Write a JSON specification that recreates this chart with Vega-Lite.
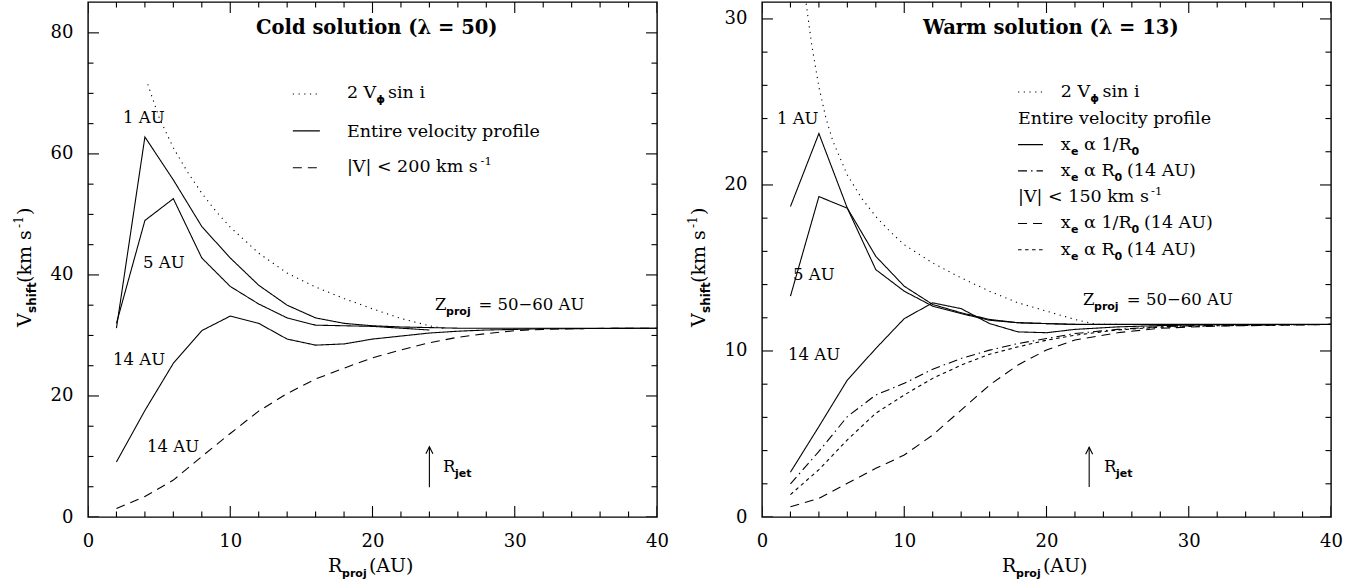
{
"$schema": "https://vega.github.io/schema/vega-lite/v6.json",
"padding": {"left": 12, "top": 1, "right": 5, "bottom": 0},
"autosize": {"type": "pad"},
"spacing": 16,
"resolve": {"scale": {"x": "independent", "y": "independent"}},
"config": {
 "view": {"stroke": "black", "strokeWidth": 1.4},
 "axis": {"domain": false, "grid": false, "ticks": false, "labelColor": "black", "labelFont": "DejaVu Serif", "labelFontSize": 18, "labelFlush": false, "labelOverlap": false},
 "text": {"color": "black"}
},
"datasets": {
 "xticks": [
  {"R":0,"kind":"major"},{"R":2,"kind":"minor"},{"R":4,"kind":"minor"},{"R":6,"kind":"minor"},{"R":8,"kind":"minor"},{"R":10,"kind":"major"},{"R":12,"kind":"minor"},{"R":14,"kind":"minor"},{"R":16,"kind":"minor"},{"R":18,"kind":"minor"},{"R":20,"kind":"major"},{"R":22,"kind":"minor"},{"R":24,"kind":"minor"},{"R":26,"kind":"minor"},{"R":28,"kind":"minor"},{"R":30,"kind":"major"},{"R":32,"kind":"minor"},{"R":34,"kind":"minor"},{"R":36,"kind":"minor"},{"R":38,"kind":"minor"},{"R":40,"kind":"major"}
 ],
 "yticks": [
  {"panel":"cold","V":0,"kind":"major"},{"panel":"cold","V":5,"kind":"minor"},{"panel":"cold","V":10,"kind":"minor"},{"panel":"cold","V":15,"kind":"minor"},{"panel":"cold","V":20,"kind":"major"},{"panel":"cold","V":25,"kind":"minor"},{"panel":"cold","V":30,"kind":"minor"},{"panel":"cold","V":35,"kind":"minor"},{"panel":"cold","V":40,"kind":"major"},{"panel":"cold","V":45,"kind":"minor"},{"panel":"cold","V":50,"kind":"minor"},{"panel":"cold","V":55,"kind":"minor"},{"panel":"cold","V":60,"kind":"major"},{"panel":"cold","V":65,"kind":"minor"},{"panel":"cold","V":70,"kind":"minor"},{"panel":"cold","V":75,"kind":"minor"},{"panel":"cold","V":80,"kind":"major"},
  {"panel":"warm","V":0,"kind":"major"},{"panel":"warm","V":2,"kind":"minor"},{"panel":"warm","V":4,"kind":"minor"},{"panel":"warm","V":6,"kind":"minor"},{"panel":"warm","V":8,"kind":"minor"},{"panel":"warm","V":10,"kind":"major"},{"panel":"warm","V":12,"kind":"minor"},{"panel":"warm","V":14,"kind":"minor"},{"panel":"warm","V":16,"kind":"minor"},{"panel":"warm","V":18,"kind":"minor"},{"panel":"warm","V":20,"kind":"major"},{"panel":"warm","V":22,"kind":"minor"},{"panel":"warm","V":24,"kind":"minor"},{"panel":"warm","V":26,"kind":"minor"},{"panel":"warm","V":28,"kind":"minor"},{"panel":"warm","V":30,"kind":"major"}
 ],
 "curves": [
  {"panel":"cold","profile":"rotation","curve":"rot","R":4.2,"V":71.5},{"panel":"cold","profile":"rotation","curve":"rot","R":5,"V":66.0},{"panel":"cold","profile":"rotation","curve":"rot","R":6,"V":61.0},{"panel":"cold","profile":"rotation","curve":"rot","R":7,"V":57.0},{"panel":"cold","profile":"rotation","curve":"rot","R":8,"V":53.5},{"panel":"cold","profile":"rotation","curve":"rot","R":9,"V":50.5},{"panel":"cold","profile":"rotation","curve":"rot","R":10,"V":47.9},{"panel":"cold","profile":"rotation","curve":"rot","R":12,"V":43.6},{"panel":"cold","profile":"rotation","curve":"rot","R":14,"V":40.3},{"panel":"cold","profile":"rotation","curve":"rot","R":16,"V":38.0},{"panel":"cold","profile":"rotation","curve":"rot","R":18,"V":36.1},{"panel":"cold","profile":"rotation","curve":"rot","R":20,"V":34.4},{"panel":"cold","profile":"rotation","curve":"rot","R":22,"V":32.8},{"panel":"cold","profile":"rotation","curve":"rot","R":24,"V":31.6},{"panel":"cold","profile":"rotation","curve":"rot","R":25,"V":31.2},
  {"panel":"cold","profile":"entire","curve":"1 AU","R":2,"V":31.2},{"panel":"cold","profile":"entire","curve":"1 AU","R":4,"V":62.8},{"panel":"cold","profile":"entire","curve":"1 AU","R":6,"V":55.7},{"panel":"cold","profile":"entire","curve":"1 AU","R":8,"V":48.0},{"panel":"cold","profile":"entire","curve":"1 AU","R":10,"V":42.8},{"panel":"cold","profile":"entire","curve":"1 AU","R":12,"V":38.3},{"panel":"cold","profile":"entire","curve":"1 AU","R":14,"V":35.0},{"panel":"cold","profile":"entire","curve":"1 AU","R":16,"V":32.9},{"panel":"cold","profile":"entire","curve":"1 AU","R":18,"V":32.0},{"panel":"cold","profile":"entire","curve":"1 AU","R":20,"V":31.6},{"panel":"cold","profile":"entire","curve":"1 AU","R":22,"V":31.4},{"panel":"cold","profile":"entire","curve":"1 AU","R":24,"V":31.3},{"panel":"cold","profile":"entire","curve":"1 AU","R":26,"V":31.2},{"panel":"cold","profile":"entire","curve":"1 AU","R":40,"V":31.2},
  {"panel":"cold","profile":"entire","curve":"5 AU","R":2,"V":32.0},{"panel":"cold","profile":"entire","curve":"5 AU","R":4,"V":49.0},{"panel":"cold","profile":"entire","curve":"5 AU","R":6,"V":52.6},{"panel":"cold","profile":"entire","curve":"5 AU","R":8,"V":42.8},{"panel":"cold","profile":"entire","curve":"5 AU","R":10,"V":38.1},{"panel":"cold","profile":"entire","curve":"5 AU","R":12,"V":35.2},{"panel":"cold","profile":"entire","curve":"5 AU","R":14,"V":32.9},{"panel":"cold","profile":"entire","curve":"5 AU","R":16,"V":31.7},{"panel":"cold","profile":"entire","curve":"5 AU","R":18,"V":31.6},{"panel":"cold","profile":"entire","curve":"5 AU","R":20,"V":31.5},{"panel":"cold","profile":"entire","curve":"5 AU","R":22,"V":31.2},{"panel":"cold","profile":"entire","curve":"5 AU","R":24,"V":30.9},
  {"panel":"cold","profile":"entire","curve":"14 AU","R":2,"V":9.1},{"panel":"cold","profile":"entire","curve":"14 AU","R":4,"V":17.6},{"panel":"cold","profile":"entire","curve":"14 AU","R":6,"V":25.4},{"panel":"cold","profile":"entire","curve":"14 AU","R":8,"V":30.8},{"panel":"cold","profile":"entire","curve":"14 AU","R":10,"V":33.2},{"panel":"cold","profile":"entire","curve":"14 AU","R":12,"V":32.0},{"panel":"cold","profile":"entire","curve":"14 AU","R":14,"V":29.4},{"panel":"cold","profile":"entire","curve":"14 AU","R":16,"V":28.4},{"panel":"cold","profile":"entire","curve":"14 AU","R":18,"V":28.6},{"panel":"cold","profile":"entire","curve":"14 AU","R":20,"V":29.4},{"panel":"cold","profile":"entire","curve":"14 AU","R":22,"V":29.9},{"panel":"cold","profile":"entire","curve":"14 AU","R":24,"V":30.4},{"panel":"cold","profile":"entire","curve":"14 AU","R":26,"V":30.7},{"panel":"cold","profile":"entire","curve":"14 AU","R":28,"V":30.9},{"panel":"cold","profile":"entire","curve":"14 AU","R":30,"V":31.0},{"panel":"cold","profile":"entire","curve":"14 AU","R":32,"V":31.1},{"panel":"cold","profile":"entire","curve":"14 AU","R":40,"V":31.2},
  {"panel":"cold","profile":"lowV200","curve":"14 AU","R":2,"V":1.4},{"panel":"cold","profile":"lowV200","curve":"14 AU","R":4,"V":3.4},{"panel":"cold","profile":"lowV200","curve":"14 AU","R":6,"V":6.1},{"panel":"cold","profile":"lowV200","curve":"14 AU","R":8,"V":10.0},{"panel":"cold","profile":"lowV200","curve":"14 AU","R":10,"V":13.8},{"panel":"cold","profile":"lowV200","curve":"14 AU","R":12,"V":17.5},{"panel":"cold","profile":"lowV200","curve":"14 AU","R":14,"V":20.4},{"panel":"cold","profile":"lowV200","curve":"14 AU","R":16,"V":22.8},{"panel":"cold","profile":"lowV200","curve":"14 AU","R":18,"V":24.6},{"panel":"cold","profile":"lowV200","curve":"14 AU","R":20,"V":26.3},{"panel":"cold","profile":"lowV200","curve":"14 AU","R":22,"V":27.6},{"panel":"cold","profile":"lowV200","curve":"14 AU","R":24,"V":28.8},{"panel":"cold","profile":"lowV200","curve":"14 AU","R":26,"V":29.7},{"panel":"cold","profile":"lowV200","curve":"14 AU","R":28,"V":30.3},{"panel":"cold","profile":"lowV200","curve":"14 AU","R":30,"V":30.8},{"panel":"cold","profile":"lowV200","curve":"14 AU","R":32,"V":31.0},{"panel":"cold","profile":"lowV200","curve":"14 AU","R":35,"V":31.15},{"panel":"cold","profile":"lowV200","curve":"14 AU","R":40,"V":31.2},
  {"panel":"warm","profile":"rotation","curve":"rot","R":3.0,"V":31.6},{"panel":"warm","profile":"rotation","curve":"rot","R":3.5,"V":28.4},{"panel":"warm","profile":"rotation","curve":"rot","R":4,"V":25.9},{"panel":"warm","profile":"rotation","curve":"rot","R":4.5,"V":24.0},{"panel":"warm","profile":"rotation","curve":"rot","R":5,"V":22.6},{"panel":"warm","profile":"rotation","curve":"rot","R":6,"V":20.6},{"panel":"warm","profile":"rotation","curve":"rot","R":7,"V":19.2},{"panel":"warm","profile":"rotation","curve":"rot","R":8,"V":18.1},{"panel":"warm","profile":"rotation","curve":"rot","R":9,"V":17.2},{"panel":"warm","profile":"rotation","curve":"rot","R":10,"V":16.4},{"panel":"warm","profile":"rotation","curve":"rot","R":12,"V":15.3},{"panel":"warm","profile":"rotation","curve":"rot","R":14,"V":14.4},{"panel":"warm","profile":"rotation","curve":"rot","R":16,"V":13.6},{"panel":"warm","profile":"rotation","curve":"rot","R":18,"V":12.9},{"panel":"warm","profile":"rotation","curve":"rot","R":20,"V":12.4},{"panel":"warm","profile":"rotation","curve":"rot","R":22,"V":11.9},{"panel":"warm","profile":"rotation","curve":"rot","R":23.5,"V":11.6},{"panel":"warm","profile":"rotation","curve":"rot","R":25,"V":11.6},
  {"panel":"warm","profile":"entire_invR0","curve":"1 AU","R":2,"V":18.7},{"panel":"warm","profile":"entire_invR0","curve":"1 AU","R":4,"V":23.1},{"panel":"warm","profile":"entire_invR0","curve":"1 AU","R":6,"V":18.6},{"panel":"warm","profile":"entire_invR0","curve":"1 AU","R":8,"V":15.7},{"panel":"warm","profile":"entire_invR0","curve":"1 AU","R":10,"V":13.9},{"panel":"warm","profile":"entire_invR0","curve":"1 AU","R":12,"V":12.8},{"panel":"warm","profile":"entire_invR0","curve":"1 AU","R":14,"V":12.3},{"panel":"warm","profile":"entire_invR0","curve":"1 AU","R":16,"V":11.9},{"panel":"warm","profile":"entire_invR0","curve":"1 AU","R":18,"V":11.7},{"panel":"warm","profile":"entire_invR0","curve":"1 AU","R":20,"V":11.65},{"panel":"warm","profile":"entire_invR0","curve":"1 AU","R":22,"V":11.6},{"panel":"warm","profile":"entire_invR0","curve":"1 AU","R":40,"V":11.6},
  {"panel":"warm","profile":"entire_invR0","curve":"5 AU","R":2,"V":13.3},{"panel":"warm","profile":"entire_invR0","curve":"5 AU","R":4,"V":19.3},{"panel":"warm","profile":"entire_invR0","curve":"5 AU","R":6,"V":18.6},{"panel":"warm","profile":"entire_invR0","curve":"5 AU","R":8,"V":14.9},{"panel":"warm","profile":"entire_invR0","curve":"5 AU","R":10,"V":13.6},{"panel":"warm","profile":"entire_invR0","curve":"5 AU","R":12,"V":12.7},{"panel":"warm","profile":"entire_invR0","curve":"5 AU","R":14,"V":12.25},{"panel":"warm","profile":"entire_invR0","curve":"5 AU","R":16,"V":11.85},{"panel":"warm","profile":"entire_invR0","curve":"5 AU","R":18,"V":11.7},{"panel":"warm","profile":"entire_invR0","curve":"5 AU","R":20,"V":11.65},{"panel":"warm","profile":"entire_invR0","curve":"5 AU","R":22,"V":11.6},
  {"panel":"warm","profile":"entire_invR0","curve":"14 AU","R":2,"V":2.7},{"panel":"warm","profile":"entire_invR0","curve":"14 AU","R":4,"V":5.45},{"panel":"warm","profile":"entire_invR0","curve":"14 AU","R":6,"V":8.25},{"panel":"warm","profile":"entire_invR0","curve":"14 AU","R":8,"V":10.15},{"panel":"warm","profile":"entire_invR0","curve":"14 AU","R":10,"V":11.95},{"panel":"warm","profile":"entire_invR0","curve":"14 AU","R":12,"V":12.9},{"panel":"warm","profile":"entire_invR0","curve":"14 AU","R":14,"V":12.55},{"panel":"warm","profile":"entire_invR0","curve":"14 AU","R":16,"V":11.65},{"panel":"warm","profile":"entire_invR0","curve":"14 AU","R":18,"V":11.15},{"panel":"warm","profile":"entire_invR0","curve":"14 AU","R":20,"V":11.1},{"panel":"warm","profile":"entire_invR0","curve":"14 AU","R":22,"V":11.3},{"panel":"warm","profile":"entire_invR0","curve":"14 AU","R":25,"V":11.45},{"panel":"warm","profile":"entire_invR0","curve":"14 AU","R":28,"V":11.53},{"panel":"warm","profile":"entire_invR0","curve":"14 AU","R":32,"V":11.58},{"panel":"warm","profile":"entire_invR0","curve":"14 AU","R":40,"V":11.6},
  {"panel":"warm","profile":"entire_R0","curve":"14 AU","R":2,"V":2.0},{"panel":"warm","profile":"entire_R0","curve":"14 AU","R":4,"V":3.95},{"panel":"warm","profile":"entire_R0","curve":"14 AU","R":6,"V":6.05},{"panel":"warm","profile":"entire_R0","curve":"14 AU","R":8,"V":7.35},{"panel":"warm","profile":"entire_R0","curve":"14 AU","R":10,"V":8.05},{"panel":"warm","profile":"entire_R0","curve":"14 AU","R":12,"V":8.9},{"panel":"warm","profile":"entire_R0","curve":"14 AU","R":14,"V":9.55},{"panel":"warm","profile":"entire_R0","curve":"14 AU","R":16,"V":10.05},{"panel":"warm","profile":"entire_R0","curve":"14 AU","R":18,"V":10.45},{"panel":"warm","profile":"entire_R0","curve":"14 AU","R":20,"V":10.75},{"panel":"warm","profile":"entire_R0","curve":"14 AU","R":22,"V":11.05},{"panel":"warm","profile":"entire_R0","curve":"14 AU","R":25,"V":11.3},{"panel":"warm","profile":"entire_R0","curve":"14 AU","R":28,"V":11.47},{"panel":"warm","profile":"entire_R0","curve":"14 AU","R":32,"V":11.55},{"panel":"warm","profile":"entire_R0","curve":"14 AU","R":40,"V":11.6},
  {"panel":"warm","profile":"lowV150_R0","curve":"14 AU","R":2,"V":1.35},{"panel":"warm","profile":"lowV150_R0","curve":"14 AU","R":4,"V":2.85},{"panel":"warm","profile":"lowV150_R0","curve":"14 AU","R":6,"V":4.65},{"panel":"warm","profile":"lowV150_R0","curve":"14 AU","R":8,"V":6.25},{"panel":"warm","profile":"lowV150_R0","curve":"14 AU","R":10,"V":7.35},{"panel":"warm","profile":"lowV150_R0","curve":"14 AU","R":12,"V":8.35},{"panel":"warm","profile":"lowV150_R0","curve":"14 AU","R":14,"V":9.15},{"panel":"warm","profile":"lowV150_R0","curve":"14 AU","R":16,"V":9.8},{"panel":"warm","profile":"lowV150_R0","curve":"14 AU","R":18,"V":10.25},{"panel":"warm","profile":"lowV150_R0","curve":"14 AU","R":20,"V":10.65},{"panel":"warm","profile":"lowV150_R0","curve":"14 AU","R":22,"V":10.95},{"panel":"warm","profile":"lowV150_R0","curve":"14 AU","R":25,"V":11.27},{"panel":"warm","profile":"lowV150_R0","curve":"14 AU","R":28,"V":11.43},{"panel":"warm","profile":"lowV150_R0","curve":"14 AU","R":32,"V":11.52},{"panel":"warm","profile":"lowV150_R0","curve":"14 AU","R":40,"V":11.6},
  {"panel":"warm","profile":"lowV150_invR0","curve":"14 AU","R":2,"V":0.62},{"panel":"warm","profile":"lowV150_invR0","curve":"14 AU","R":4,"V":1.12},{"panel":"warm","profile":"lowV150_invR0","curve":"14 AU","R":6,"V":2.03},{"panel":"warm","profile":"lowV150_invR0","curve":"14 AU","R":8,"V":2.93},{"panel":"warm","profile":"lowV150_invR0","curve":"14 AU","R":10,"V":3.73},{"panel":"warm","profile":"lowV150_invR0","curve":"14 AU","R":12,"V":4.94},{"panel":"warm","profile":"lowV150_invR0","curve":"14 AU","R":14,"V":6.44},{"panel":"warm","profile":"lowV150_invR0","curve":"14 AU","R":16,"V":7.95},{"panel":"warm","profile":"lowV150_invR0","curve":"14 AU","R":18,"V":9.16},{"panel":"warm","profile":"lowV150_invR0","curve":"14 AU","R":20,"V":10.06},{"panel":"warm","profile":"lowV150_invR0","curve":"14 AU","R":22,"V":10.66},{"panel":"warm","profile":"lowV150_invR0","curve":"14 AU","R":25,"V":11.1},{"panel":"warm","profile":"lowV150_invR0","curve":"14 AU","R":28,"V":11.37},{"panel":"warm","profile":"lowV150_invR0","curve":"14 AU","R":32,"V":11.5},{"panel":"warm","profile":"lowV150_invR0","curve":"14 AU","R":40,"V":11.6}
 ],
 "legendLines": [
  {"panel":"cold","profile":"rotation","R":14.4,"V":69.9},{"panel":"cold","profile":"rotation","R":16.3,"V":69.9},
  {"panel":"cold","profile":"entire","R":14.4,"V":63.8},{"panel":"cold","profile":"entire","R":16.3,"V":63.8},
  {"panel":"cold","profile":"lowV200","R":14.4,"V":57.7},{"panel":"cold","profile":"lowV200","R":16.3,"V":57.7},
  {"panel":"warm","profile":"rotation","R":18.0,"V":25.6},{"panel":"warm","profile":"rotation","R":19.75,"V":25.6},
  {"panel":"warm","profile":"entire_invR0","R":18.0,"V":22.43},{"panel":"warm","profile":"entire_invR0","R":19.75,"V":22.43},
  {"panel":"warm","profile":"entire_R0","R":18.0,"V":20.85},{"panel":"warm","profile":"entire_R0","R":19.75,"V":20.85},
  {"panel":"warm","profile":"lowV150_invR0","R":18.0,"V":17.68},{"panel":"warm","profile":"lowV150_invR0","R":19.75,"V":17.68},
  {"panel":"warm","profile":"lowV150_R0","R":18.0,"V":16.1},{"panel":"warm","profile":"lowV150_R0","R":19.75,"V":16.1}
 ],
 "labels": [
  {"panel":"cold","R":2.46,"V":65.1,"text":"1 AU"},{"panel":"cold","R":3.87,"V":41.2,"text":"5 AU"},{"panel":"cold","R":1.76,"V":25.1,"text":"14 AU"},{"panel":"cold","R":4.15,"V":10.7,"text":"14 AU"},
  {"panel":"cold","R":24.4,"V":34.2,"text":"Z"},{"panel":"cold","R":27.45,"V":34.2,"text":"= 50−60 AU"},{"panel":"cold","R":24.96,"V":7.44,"text":"R"},
  {"panel":"warm","R":1.05,"V":23.7,"text":"1 AU"},{"panel":"warm","R":2.18,"V":14.3,"text":"5 AU"},{"panel":"warm","R":1.83,"V":9.46,"text":"14 AU"},
  {"panel":"warm","R":22.57,"V":12.77,"text":"Z"},{"panel":"warm","R":25.65,"V":12.77,"text":"= 50−60 AU"},{"panel":"warm","R":24.04,"V":2.71,"text":"R"}
 ],
 "legendText": [
  {"panel":"cold","R":18.2,"V":69.3,"text":"2 V"},{"panel":"cold","R":21.09,"V":69.3,"text":"sin i"},{"panel":"cold","R":18.2,"V":62.8,"text":"Entire velocity profile"},{"panel":"cold","R":18.2,"V":57.0,"text":"|V| < 200 km s"},
  {"panel":"warm","R":21.0,"V":25.3,"text":"2 V"},{"panel":"warm","R":23.94,"V":25.3,"text":"sin i"},{"panel":"warm","R":18.0,"V":23.7,"text":"Entire velocity profile"},
  {"panel":"warm","R":21.0,"V":22.13,"text":"x"},{"panel":"warm","R":22.64,"V":22.13,"text":"α 1/R"},
  {"panel":"warm","R":21.0,"V":20.55,"text":"x"},{"panel":"warm","R":22.64,"V":20.55,"text":"α R"},{"panel":"warm","R":25.66,"V":20.55,"text":"(14 AU)"},
  {"panel":"warm","R":18.0,"V":18.96,"text":"|V| < 150 km s"},
  {"panel":"warm","R":21.0,"V":17.38,"text":"x"},{"panel":"warm","R":22.64,"V":17.38,"text":"α 1/R"},{"panel":"warm","R":26.85,"V":17.38,"text":"(14 AU)"},
  {"panel":"warm","R":21.0,"V":15.8,"text":"x"},{"panel":"warm","R":22.64,"V":15.8,"text":"α R"},{"panel":"warm","R":25.66,"V":15.8,"text":"(14 AU)"}
 ],
 "subs": [
  {"panel":"cold","R":20.27,"V":69.3,"text":"ϕ"},{"panel":"cold","R":25.17,"V":34.2,"text":"proj"},{"panel":"cold","R":25.8,"V":7.44,"text":"jet"},{"panel":"cold","R":17.86,"V":-9.09,"text":"proj"},
  {"panel":"warm","R":23.08,"V":25.3,"text":"ϕ"},
  {"panel":"warm","R":21.72,"V":22.13,"text":"e"},{"panel":"warm","R":25.97,"V":22.13,"text":"0"},
  {"panel":"warm","R":21.72,"V":20.55,"text":"e"},{"panel":"warm","R":24.78,"V":20.55,"text":"0"},
  {"panel":"warm","R":21.72,"V":17.38,"text":"e"},{"panel":"warm","R":25.97,"V":17.38,"text":"0"},
  {"panel":"warm","R":21.72,"V":15.8,"text":"e"},{"panel":"warm","R":24.78,"V":15.8,"text":"0"},
  {"panel":"warm","R":23.34,"V":12.77,"text":"proj"},{"panel":"warm","R":24.89,"V":2.71,"text":"jet"},{"panel":"warm","R":17.86,"V":-3.31,"text":"proj"}
 ],
 "sups": [
  {"panel":"cold","R":27.6,"V":57.0,"text":"-1"},
  {"panel":"warm","R":27.35,"V":18.96,"text":"-1"}
 ],
 "titles": [
  {"panel":"cold","R":20.3,"V":79.8,"text":"Cold solution (λ = 50)"},
  {"panel":"warm","R":20.3,"V":29.1,"text":"Warm solution (λ = 13)"}
 ],
 "xtitles": [
  {"panel":"cold","R":16.87,"V":-9.09,"text":"R"},{"panel":"cold","R":19.75,"V":-9.09,"text":"(AU)"},
  {"panel":"warm","R":16.87,"V":-3.31,"text":"R"},{"panel":"warm","R":19.75,"V":-3.31,"text":"(AU)"}
 ],
 "ytitles": [
  {"panel":"cold","R":-4.0,"V":31.4,"text":"V"},{"panel":"cold","R":-4.0,"V":38.68,"text":"(km s"},{"panel":"cold","R":-4.0,"V":49.92,"text":")"},
  {"panel":"warm","R":-4.0,"V":11.45,"text":"V"},{"panel":"warm","R":-4.0,"V":14.10,"text":"(km s"},{"panel":"warm","R":-4.0,"V":18.19,"text":")"}
 ],
 "ytitleSubs": [
  {"panel":"cold","R":-4.0,"V":33.72,"text":"shift"},
  {"panel":"warm","R":-4.0,"V":12.29,"text":"shift"}
 ],
 "ytitleSups": [
  {"panel":"cold","R":-4.0,"V":47.77,"text":"-1"},
  {"panel":"warm","R":-4.0,"V":17.41,"text":"-1"}
 ],
 "arrows": [
  {"panel":"cold","R":24,"V":4.9,"V2":11.6},
  {"panel":"warm","R":23,"V":1.8,"V2":4.2}
 ]
},
"hconcat": [
 {
  "width": 569, "height": 515,
  "layer": [
   {"data": {"name": "curves"}, "transform": [{"filter": "datum.panel === 'cold'"}],
    "mark": {"type": "line", "color": "black", "strokeWidth": 1.1, "clip": true},
    "encoding": {
     "x": {"field": "R", "type": "quantitative", "scale": {"domain": [0, 40], "nice": false}, "axis": {"orient": "bottom", "values": [0,10,20,30,40], "labelPadding": 15, "title": null}},
     "y": {"field": "V", "type": "quantitative", "scale": {"domain": [0, 85.1], "nice": false}, "axis": {"orient": "left", "values": [0,20,40,60,80], "labelPadding": 15, "title": null}},
     "strokeDash": {"field": "profile", "type": "nominal", "legend": null, "scale": {"domain": ["rotation","entire","lowV200","entire_invR0","entire_R0","lowV150_invR0","lowV150_R0"], "range": [[1.2,4.5],[1,0],[9,6],[1,0],[9,4,1.5,4],[9,6],[3.5,3.5]]}},
     "detail": {"field": "curve", "type": "nominal"}
    }},
   {"data": {"name": "xticks"},
    "mark": {"type": "tick", "orient": "vertical", "clip": true, "color": "black", "opacity": 1, "thickness": 1.1},
    "encoding": {
     "x": {"field": "R", "type": "quantitative", "scale": {"domain": [0, 40], "nice": false}, "axis": {"orient": "bottom", "values": [0,10,20,30,40], "labelPadding": 15, "title": null}},
     "y": {"datum": 0, "type": "quantitative", "scale": {"domain": [0, 85.1], "nice": false}, "axis": {"orient": "left", "values": [0,20,40,60,80], "labelPadding": 15, "title": null}},
     "size": {"field": "kind", "type": "nominal", "scale": {"domain": ["major","minor"], "range": [22, 11]}, "legend": null}
    }},
   {"data": {"name": "xticks"},
    "mark": {"type": "tick", "orient": "vertical", "clip": true, "color": "black", "opacity": 1, "thickness": 1.1},
    "encoding": {
     "x": {"field": "R", "type": "quantitative", "scale": {"domain": [0, 40], "nice": false}, "axis": {"orient": "bottom", "values": [0,10,20,30,40], "labelPadding": 15, "title": null}},
     "y": {"datum": 85.1, "type": "quantitative", "scale": {"domain": [0, 85.1], "nice": false}, "axis": {"orient": "left", "values": [0,20,40,60,80], "labelPadding": 15, "title": null}},
     "size": {"field": "kind", "type": "nominal", "scale": {"domain": ["major","minor"], "range": [22, 11]}, "legend": null}
    }},
   {"data": {"name": "yticks"}, "transform": [{"filter": "datum.panel === 'cold'"}],
    "mark": {"type": "tick", "orient": "horizontal", "clip": true, "color": "black", "opacity": 1, "thickness": 1.1},
    "encoding": {
     "x": {"datum": 0, "type": "quantitative", "scale": {"domain": [0, 40], "nice": false}, "axis": {"orient": "bottom", "values": [0,10,20,30,40], "labelPadding": 15, "title": null}},
     "y": {"field": "V", "type": "quantitative", "scale": {"domain": [0, 85.1], "nice": false}, "axis": {"orient": "left", "values": [0,20,40,60,80], "labelPadding": 15, "title": null}},
     "size": {"field": "kind", "type": "nominal", "scale": {"domain": ["major","minor"], "range": [22, 11]}, "legend": null}
    }},
   {"data": {"name": "yticks"}, "transform": [{"filter": "datum.panel === 'cold'"}],
    "mark": {"type": "tick", "orient": "horizontal", "clip": true, "color": "black", "opacity": 1, "thickness": 1.1},
    "encoding": {
     "x": {"datum": 40, "type": "quantitative", "scale": {"domain": [0, 40], "nice": false}, "axis": {"orient": "bottom", "values": [0,10,20,30,40], "labelPadding": 15, "title": null}},
     "y": {"field": "V", "type": "quantitative", "scale": {"domain": [0, 85.1], "nice": false}, "axis": {"orient": "left", "values": [0,20,40,60,80], "labelPadding": 15, "title": null}},
     "size": {"field": "kind", "type": "nominal", "scale": {"domain": ["major","minor"], "range": [22, 11]}, "legend": null}
    }},
   {"data": {"name": "legendLines"}, "transform": [{"filter": "datum.panel === 'cold'"}],
    "mark": {"type": "line", "color": "black", "strokeWidth": 1.1},
    "encoding": {
     "x": {"field": "R", "type": "quantitative", "scale": {"domain": [0, 40], "nice": false}, "axis": {"orient": "bottom", "values": [0,10,20,30,40], "labelPadding": 15, "title": null}},
     "y": {"field": "V", "type": "quantitative", "scale": {"domain": [0, 85.1], "nice": false}, "axis": {"orient": "left", "values": [0,20,40,60,80], "labelPadding": 15, "title": null}},
     "strokeDash": {"field": "profile", "type": "nominal", "legend": null, "scale": {"domain": ["rotation","entire","lowV200","entire_invR0","entire_R0","lowV150_invR0","lowV150_R0"], "range": [[1.2,4.5],[1,0],[9,6],[1,0],[9,4,1.5,4],[9,6],[3.5,3.5]]}},
     "detail": {"field": "profile", "type": "nominal"}
    }},
   {"data": {"name": "labels"}, "transform": [{"filter": "datum.panel === 'cold'"}],
    "mark": {"type": "text", "font": "DejaVu Serif", "fontSize": 16.5, "align": "left", "baseline": "alphabetic"},
    "encoding": {
     "x": {"field": "R", "type": "quantitative", "scale": {"domain": [0, 40], "nice": false}, "axis": {"orient": "bottom", "values": [0,10,20,30,40], "labelPadding": 15, "title": null}},
     "y": {"field": "V", "type": "quantitative", "scale": {"domain": [0, 85.1], "nice": false}, "axis": {"orient": "left", "values": [0,20,40,60,80], "labelPadding": 15, "title": null}},
     "text": {"field": "text"}
    }},
   {"data": {"name": "legendText"}, "transform": [{"filter": "datum.panel === 'cold'"}],
    "mark": {"type": "text", "font": "DejaVu Serif", "fontSize": 17.5, "align": "left", "baseline": "alphabetic"},
    "encoding": {
     "x": {"field": "R", "type": "quantitative", "scale": {"domain": [0, 40], "nice": false}, "axis": {"orient": "bottom", "values": [0,10,20,30,40], "labelPadding": 15, "title": null}},
     "y": {"field": "V", "type": "quantitative", "scale": {"domain": [0, 85.1], "nice": false}, "axis": {"orient": "left", "values": [0,20,40,60,80], "labelPadding": 15, "title": null}},
     "text": {"field": "text"}
    }},
   {"data": {"name": "subs"}, "transform": [{"filter": "datum.panel === 'cold'"}],
    "mark": {"type": "text", "font": "DejaVu Sans", "fontWeight": "bold", "fontSize": 11, "align": "left", "baseline": "alphabetic", "dy": 5},
    "encoding": {
     "x": {"field": "R", "type": "quantitative", "scale": {"domain": [0, 40], "nice": false}, "axis": {"orient": "bottom", "values": [0,10,20,30,40], "labelPadding": 15, "title": null}},
     "y": {"field": "V", "type": "quantitative", "scale": {"domain": [0, 85.1], "nice": false}, "axis": {"orient": "left", "values": [0,20,40,60,80], "labelPadding": 15, "title": null}},
     "text": {"field": "text"}
    }},
   {"data": {"name": "sups"}, "transform": [{"filter": "datum.panel === 'cold'"}],
    "mark": {"type": "text", "font": "DejaVu Serif", "fontSize": 11.5, "align": "left", "baseline": "alphabetic", "dy": -7},
    "encoding": {
     "x": {"field": "R", "type": "quantitative", "scale": {"domain": [0, 40], "nice": false}, "axis": {"orient": "bottom", "values": [0,10,20,30,40], "labelPadding": 15, "title": null}},
     "y": {"field": "V", "type": "quantitative", "scale": {"domain": [0, 85.1], "nice": false}, "axis": {"orient": "left", "values": [0,20,40,60,80], "labelPadding": 15, "title": null}},
     "text": {"field": "text"}
    }},
   {"data": {"name": "titles"}, "transform": [{"filter": "datum.panel === 'cold'"}],
    "mark": {"type": "text", "font": "DejaVu Serif", "fontWeight": "bold", "fontSize": 19.5, "align": "center", "baseline": "alphabetic"},
    "encoding": {
     "x": {"field": "R", "type": "quantitative", "scale": {"domain": [0, 40], "nice": false}, "axis": {"orient": "bottom", "values": [0,10,20,30,40], "labelPadding": 15, "title": null}},
     "y": {"field": "V", "type": "quantitative", "scale": {"domain": [0, 85.1], "nice": false}, "axis": {"orient": "left", "values": [0,20,40,60,80], "labelPadding": 15, "title": null}},
     "text": {"field": "text"}
    }},
   {"data": {"name": "xtitles"}, "transform": [{"filter": "datum.panel === 'cold'"}],
    "mark": {"type": "text", "font": "DejaVu Serif", "fontSize": 19, "align": "left", "baseline": "alphabetic"},
    "encoding": {
     "x": {"field": "R", "type": "quantitative", "scale": {"domain": [0, 40], "nice": false}, "axis": {"orient": "bottom", "values": [0,10,20,30,40], "labelPadding": 15, "title": null}},
     "y": {"field": "V", "type": "quantitative", "scale": {"domain": [0, 85.1], "nice": false}, "axis": {"orient": "left", "values": [0,20,40,60,80], "labelPadding": 15, "title": null}},
     "text": {"field": "text"}
    }},
   {"data": {"name": "ytitles"}, "transform": [{"filter": "datum.panel === 'cold'"}],
    "mark": {"type": "text", "font": "DejaVu Serif", "fontSize": 19, "align": "left", "baseline": "alphabetic", "angle": 270},
    "encoding": {
     "x": {"field": "R", "type": "quantitative", "scale": {"domain": [0, 40], "nice": false}, "axis": {"orient": "bottom", "values": [0,10,20,30,40], "labelPadding": 15, "title": null}},
     "y": {"field": "V", "type": "quantitative", "scale": {"domain": [0, 85.1], "nice": false}, "axis": {"orient": "left", "values": [0,20,40,60,80], "labelPadding": 15, "title": null}},
     "text": {"field": "text"}
    }},
   {"data": {"name": "ytitleSubs"}, "transform": [{"filter": "datum.panel === 'cold'"}],
    "mark": {"type": "text", "font": "DejaVu Sans", "fontWeight": "bold", "fontSize": 12, "align": "left", "baseline": "alphabetic", "angle": 270, "dy": 5},
    "encoding": {
     "x": {"field": "R", "type": "quantitative", "scale": {"domain": [0, 40], "nice": false}, "axis": {"orient": "bottom", "values": [0,10,20,30,40], "labelPadding": 15, "title": null}},
     "y": {"field": "V", "type": "quantitative", "scale": {"domain": [0, 85.1], "nice": false}, "axis": {"orient": "left", "values": [0,20,40,60,80], "labelPadding": 15, "title": null}},
     "text": {"field": "text"}
    }},
   {"data": {"name": "ytitleSups"}, "transform": [{"filter": "datum.panel === 'cold'"}],
    "mark": {"type": "text", "font": "DejaVu Serif", "fontSize": 12, "align": "left", "baseline": "alphabetic", "angle": 270, "dy": -8},
    "encoding": {
     "x": {"field": "R", "type": "quantitative", "scale": {"domain": [0, 40], "nice": false}, "axis": {"orient": "bottom", "values": [0,10,20,30,40], "labelPadding": 15, "title": null}},
     "y": {"field": "V", "type": "quantitative", "scale": {"domain": [0, 85.1], "nice": false}, "axis": {"orient": "left", "values": [0,20,40,60,80], "labelPadding": 15, "title": null}},
     "text": {"field": "text"}
    }},
   {"data": {"name": "arrows"}, "transform": [{"filter": "datum.panel === 'cold'"}],
    "mark": {"type": "rule", "color": "black", "strokeWidth": 1.1},
    "encoding": {
     "x": {"field": "R", "type": "quantitative", "scale": {"domain": [0, 40], "nice": false}, "axis": {"orient": "bottom", "values": [0,10,20,30,40], "labelPadding": 15, "title": null}},
     "y": {"field": "V", "type": "quantitative", "scale": {"domain": [0, 85.1], "nice": false}, "axis": {"orient": "left", "values": [0,20,40,60,80], "labelPadding": 15, "title": null}},
     "y2": {"field": "V2"}
    }},
   {"data": {"name": "arrows"}, "transform": [{"filter": "datum.panel === 'cold'"}],
    "mark": {"type": "point", "shape": "M-0.5,1L0,0L0.5,1", "filled": false, "size": 196, "color": "black", "strokeWidth": 1.1, "opacity": 1},
    "encoding": {
     "x": {"field": "R", "type": "quantitative", "scale": {"domain": [0, 40], "nice": false}, "axis": {"orient": "bottom", "values": [0,10,20,30,40], "labelPadding": 15, "title": null}},
     "y": {"field": "V2", "type": "quantitative", "scale": {"domain": [0, 85.1], "nice": false}, "axis": {"orient": "left", "values": [0,20,40,60,80], "labelPadding": 15, "title": null}}
    }}
  ]
 },
 {
  "width": 569, "height": 515,
  "layer": [
   {"data": {"name": "curves"}, "transform": [{"filter": "datum.panel === 'warm'"}],
    "mark": {"type": "line", "color": "black", "strokeWidth": 1.1, "clip": true},
    "encoding": {
     "x": {"field": "R", "type": "quantitative", "scale": {"domain": [0, 40], "nice": false}, "axis": {"orient": "bottom", "values": [0,10,20,30,40], "labelPadding": 15, "title": null}},
     "y": {"field": "V", "type": "quantitative", "scale": {"domain": [0, 31.02], "nice": false}, "axis": {"orient": "left", "values": [0,10,20,30], "labelPadding": 15, "title": null}},
     "strokeDash": {"field": "profile", "type": "nominal", "legend": null, "scale": {"domain": ["rotation","entire","lowV200","entire_invR0","entire_R0","lowV150_invR0","lowV150_R0"], "range": [[1.2,4.5],[1,0],[9,6],[1,0],[9,4,1.5,4],[9,6],[3.5,3.5]]}},
     "detail": {"field": "curve", "type": "nominal"}
    }},
   {"data": {"name": "xticks"},
    "mark": {"type": "tick", "orient": "vertical", "clip": true, "color": "black", "opacity": 1, "thickness": 1.1},
    "encoding": {
     "x": {"field": "R", "type": "quantitative", "scale": {"domain": [0, 40], "nice": false}, "axis": {"orient": "bottom", "values": [0,10,20,30,40], "labelPadding": 15, "title": null}},
     "y": {"datum": 0, "type": "quantitative", "scale": {"domain": [0, 31.02], "nice": false}, "axis": {"orient": "left", "values": [0,10,20,30], "labelPadding": 15, "title": null}},
     "size": {"field": "kind", "type": "nominal", "scale": {"domain": ["major","minor"], "range": [22, 11]}, "legend": null}
    }},
   {"data": {"name": "xticks"},
    "mark": {"type": "tick", "orient": "vertical", "clip": true, "color": "black", "opacity": 1, "thickness": 1.1},
    "encoding": {
     "x": {"field": "R", "type": "quantitative", "scale": {"domain": [0, 40], "nice": false}, "axis": {"orient": "bottom", "values": [0,10,20,30,40], "labelPadding": 15, "title": null}},
     "y": {"datum": 31.02, "type": "quantitative", "scale": {"domain": [0, 31.02], "nice": false}, "axis": {"orient": "left", "values": [0,10,20,30], "labelPadding": 15, "title": null}},
     "size": {"field": "kind", "type": "nominal", "scale": {"domain": ["major","minor"], "range": [22, 11]}, "legend": null}
    }},
   {"data": {"name": "yticks"}, "transform": [{"filter": "datum.panel === 'warm'"}],
    "mark": {"type": "tick", "orient": "horizontal", "clip": true, "color": "black", "opacity": 1, "thickness": 1.1},
    "encoding": {
     "x": {"datum": 0, "type": "quantitative", "scale": {"domain": [0, 40], "nice": false}, "axis": {"orient": "bottom", "values": [0,10,20,30,40], "labelPadding": 15, "title": null}},
     "y": {"field": "V", "type": "quantitative", "scale": {"domain": [0, 31.02], "nice": false}, "axis": {"orient": "left", "values": [0,10,20,30], "labelPadding": 15, "title": null}},
     "size": {"field": "kind", "type": "nominal", "scale": {"domain": ["major","minor"], "range": [22, 11]}, "legend": null}
    }},
   {"data": {"name": "yticks"}, "transform": [{"filter": "datum.panel === 'warm'"}],
    "mark": {"type": "tick", "orient": "horizontal", "clip": true, "color": "black", "opacity": 1, "thickness": 1.1},
    "encoding": {
     "x": {"datum": 40, "type": "quantitative", "scale": {"domain": [0, 40], "nice": false}, "axis": {"orient": "bottom", "values": [0,10,20,30,40], "labelPadding": 15, "title": null}},
     "y": {"field": "V", "type": "quantitative", "scale": {"domain": [0, 31.02], "nice": false}, "axis": {"orient": "left", "values": [0,10,20,30], "labelPadding": 15, "title": null}},
     "size": {"field": "kind", "type": "nominal", "scale": {"domain": ["major","minor"], "range": [22, 11]}, "legend": null}
    }},
   {"data": {"name": "legendLines"}, "transform": [{"filter": "datum.panel === 'warm'"}],
    "mark": {"type": "line", "color": "black", "strokeWidth": 1.1},
    "encoding": {
     "x": {"field": "R", "type": "quantitative", "scale": {"domain": [0, 40], "nice": false}, "axis": {"orient": "bottom", "values": [0,10,20,30,40], "labelPadding": 15, "title": null}},
     "y": {"field": "V", "type": "quantitative", "scale": {"domain": [0, 31.02], "nice": false}, "axis": {"orient": "left", "values": [0,10,20,30], "labelPadding": 15, "title": null}},
     "strokeDash": {"field": "profile", "type": "nominal", "legend": null, "scale": {"domain": ["rotation","entire","lowV200","entire_invR0","entire_R0","lowV150_invR0","lowV150_R0"], "range": [[1.2,4.5],[1,0],[9,6],[1,0],[9,4,1.5,4],[9,6],[3.5,3.5]]}},
     "detail": {"field": "profile", "type": "nominal"}
    }},
   {"data": {"name": "labels"}, "transform": [{"filter": "datum.panel === 'warm'"}],
    "mark": {"type": "text", "font": "DejaVu Serif", "fontSize": 16.5, "align": "left", "baseline": "alphabetic"},
    "encoding": {
     "x": {"field": "R", "type": "quantitative", "scale": {"domain": [0, 40], "nice": false}, "axis": {"orient": "bottom", "values": [0,10,20,30,40], "labelPadding": 15, "title": null}},
     "y": {"field": "V", "type": "quantitative", "scale": {"domain": [0, 31.02], "nice": false}, "axis": {"orient": "left", "values": [0,10,20,30], "labelPadding": 15, "title": null}},
     "text": {"field": "text"}
    }},
   {"data": {"name": "legendText"}, "transform": [{"filter": "datum.panel === 'warm'"}],
    "mark": {"type": "text", "font": "DejaVu Serif", "fontSize": 17.5, "align": "left", "baseline": "alphabetic"},
    "encoding": {
     "x": {"field": "R", "type": "quantitative", "scale": {"domain": [0, 40], "nice": false}, "axis": {"orient": "bottom", "values": [0,10,20,30,40], "labelPadding": 15, "title": null}},
     "y": {"field": "V", "type": "quantitative", "scale": {"domain": [0, 31.02], "nice": false}, "axis": {"orient": "left", "values": [0,10,20,30], "labelPadding": 15, "title": null}},
     "text": {"field": "text"}
    }},
   {"data": {"name": "subs"}, "transform": [{"filter": "datum.panel === 'warm'"}],
    "mark": {"type": "text", "font": "DejaVu Sans", "fontWeight": "bold", "fontSize": 11, "align": "left", "baseline": "alphabetic", "dy": 5},
    "encoding": {
     "x": {"field": "R", "type": "quantitative", "scale": {"domain": [0, 40], "nice": false}, "axis": {"orient": "bottom", "values": [0,10,20,30,40], "labelPadding": 15, "title": null}},
     "y": {"field": "V", "type": "quantitative", "scale": {"domain": [0, 31.02], "nice": false}, "axis": {"orient": "left", "values": [0,10,20,30], "labelPadding": 15, "title": null}},
     "text": {"field": "text"}
    }},
   {"data": {"name": "sups"}, "transform": [{"filter": "datum.panel === 'warm'"}],
    "mark": {"type": "text", "font": "DejaVu Serif", "fontSize": 11.5, "align": "left", "baseline": "alphabetic", "dy": -7},
    "encoding": {
     "x": {"field": "R", "type": "quantitative", "scale": {"domain": [0, 40], "nice": false}, "axis": {"orient": "bottom", "values": [0,10,20,30,40], "labelPadding": 15, "title": null}},
     "y": {"field": "V", "type": "quantitative", "scale": {"domain": [0, 31.02], "nice": false}, "axis": {"orient": "left", "values": [0,10,20,30], "labelPadding": 15, "title": null}},
     "text": {"field": "text"}
    }},
   {"data": {"name": "titles"}, "transform": [{"filter": "datum.panel === 'warm'"}],
    "mark": {"type": "text", "font": "DejaVu Serif", "fontWeight": "bold", "fontSize": 19.5, "align": "center", "baseline": "alphabetic"},
    "encoding": {
     "x": {"field": "R", "type": "quantitative", "scale": {"domain": [0, 40], "nice": false}, "axis": {"orient": "bottom", "values": [0,10,20,30,40], "labelPadding": 15, "title": null}},
     "y": {"field": "V", "type": "quantitative", "scale": {"domain": [0, 31.02], "nice": false}, "axis": {"orient": "left", "values": [0,10,20,30], "labelPadding": 15, "title": null}},
     "text": {"field": "text"}
    }},
   {"data": {"name": "xtitles"}, "transform": [{"filter": "datum.panel === 'warm'"}],
    "mark": {"type": "text", "font": "DejaVu Serif", "fontSize": 19, "align": "left", "baseline": "alphabetic"},
    "encoding": {
     "x": {"field": "R", "type": "quantitative", "scale": {"domain": [0, 40], "nice": false}, "axis": {"orient": "bottom", "values": [0,10,20,30,40], "labelPadding": 15, "title": null}},
     "y": {"field": "V", "type": "quantitative", "scale": {"domain": [0, 31.02], "nice": false}, "axis": {"orient": "left", "values": [0,10,20,30], "labelPadding": 15, "title": null}},
     "text": {"field": "text"}
    }},
   {"data": {"name": "ytitles"}, "transform": [{"filter": "datum.panel === 'warm'"}],
    "mark": {"type": "text", "font": "DejaVu Serif", "fontSize": 19, "align": "left", "baseline": "alphabetic", "angle": 270},
    "encoding": {
     "x": {"field": "R", "type": "quantitative", "scale": {"domain": [0, 40], "nice": false}, "axis": {"orient": "bottom", "values": [0,10,20,30,40], "labelPadding": 15, "title": null}},
     "y": {"field": "V", "type": "quantitative", "scale": {"domain": [0, 31.02], "nice": false}, "axis": {"orient": "left", "values": [0,10,20,30], "labelPadding": 15, "title": null}},
     "text": {"field": "text"}
    }},
   {"data": {"name": "ytitleSubs"}, "transform": [{"filter": "datum.panel === 'warm'"}],
    "mark": {"type": "text", "font": "DejaVu Sans", "fontWeight": "bold", "fontSize": 12, "align": "left", "baseline": "alphabetic", "angle": 270, "dy": 5},
    "encoding": {
     "x": {"field": "R", "type": "quantitative", "scale": {"domain": [0, 40], "nice": false}, "axis": {"orient": "bottom", "values": [0,10,20,30,40], "labelPadding": 15, "title": null}},
     "y": {"field": "V", "type": "quantitative", "scale": {"domain": [0, 31.02], "nice": false}, "axis": {"orient": "left", "values": [0,10,20,30], "labelPadding": 15, "title": null}},
     "text": {"field": "text"}
    }},
   {"data": {"name": "ytitleSups"}, "transform": [{"filter": "datum.panel === 'warm'"}],
    "mark": {"type": "text", "font": "DejaVu Serif", "fontSize": 12, "align": "left", "baseline": "alphabetic", "angle": 270, "dy": -8},
    "encoding": {
     "x": {"field": "R", "type": "quantitative", "scale": {"domain": [0, 40], "nice": false}, "axis": {"orient": "bottom", "values": [0,10,20,30,40], "labelPadding": 15, "title": null}},
     "y": {"field": "V", "type": "quantitative", "scale": {"domain": [0, 31.02], "nice": false}, "axis": {"orient": "left", "values": [0,10,20,30], "labelPadding": 15, "title": null}},
     "text": {"field": "text"}
    }},
   {"data": {"name": "arrows"}, "transform": [{"filter": "datum.panel === 'warm'"}],
    "mark": {"type": "rule", "color": "black", "strokeWidth": 1.1},
    "encoding": {
     "x": {"field": "R", "type": "quantitative", "scale": {"domain": [0, 40], "nice": false}, "axis": {"orient": "bottom", "values": [0,10,20,30,40], "labelPadding": 15, "title": null}},
     "y": {"field": "V", "type": "quantitative", "scale": {"domain": [0, 31.02], "nice": false}, "axis": {"orient": "left", "values": [0,10,20,30], "labelPadding": 15, "title": null}},
     "y2": {"field": "V2"}
    }},
   {"data": {"name": "arrows"}, "transform": [{"filter": "datum.panel === 'warm'"}],
    "mark": {"type": "point", "shape": "M-0.5,1L0,0L0.5,1", "filled": false, "size": 196, "color": "black", "strokeWidth": 1.1, "opacity": 1},
    "encoding": {
     "x": {"field": "R", "type": "quantitative", "scale": {"domain": [0, 40], "nice": false}, "axis": {"orient": "bottom", "values": [0,10,20,30,40], "labelPadding": 15, "title": null}},
     "y": {"field": "V2", "type": "quantitative", "scale": {"domain": [0, 31.02], "nice": false}, "axis": {"orient": "left", "values": [0,10,20,30], "labelPadding": 15, "title": null}}
    }}
  ]
 }
]
}
